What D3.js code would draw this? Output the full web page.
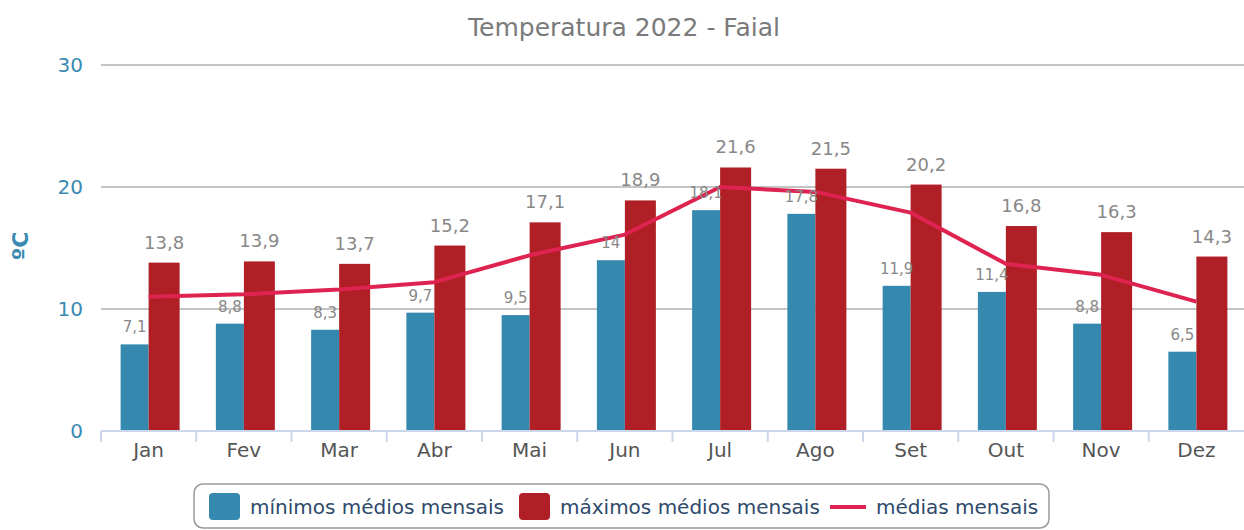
<!DOCTYPE html>
<html>
<head>
<meta charset="utf-8">
<script src="https://cdn.jsdelivr.net/npm/d3@7"></script>
<style>
  body { margin: 0; background: #fff; }
  text { font-family: "DejaVu Sans", sans-serif; }
</style>
</head>
<body>
<div id="chart"></div>
<script>
// dados
const meses = ["Jan", "Fev", "Mar", "Abr", "Mai", "Jun", "Jul", "Ago", "Set", "Out", "Nov", "Dez"];
const minimos = [7.1, 8.8, 8.3, 9.7, 9.5, 14, 18.1, 17.8, 11.9, 11.4, 8.8, 6.5];
const maximos = [13.8, 13.9, 13.7, 15.2, 17.1, 18.9, 21.6, 21.5, 20.2, 16.8, 16.3, 14.3];
const medias = [11.0, 11.2, 11.6, 12.2, 14.4, 16.1, 20.0, 19.6, 17.9, 13.7, 12.8, 10.6];
const yTicks = [0, 10, 20, 30];

const W = 1244, H = 530;
const plotLeft = 101, plotRight = 1244, plotTop = 65, plotBottom = 431;

const svg = d3.select("#chart").append("svg")
    .attr("width", W)
    .attr("height", H);

// título
svg.append("text")
    .attr("x", 624)
    .attr("y", 36)
    .attr("text-anchor", "middle")
    .style("font-size", "25px")
    .style("fill", "#7a7a7a")
    .text("Temperatura 2022 - Faial");

const x = d3.scaleBand().domain(meses).range([plotLeft, plotRight]);
const y = d3.scaleLinear().domain([0, 30]).range([plotBottom, plotTop]);

// grelha
svg.append("g").selectAll("line")
    .data(yTicks.filter(d => d > 0))
    .enter().append("line")
    .attr("x1", plotLeft).attr("x2", plotRight)
    .attr("y1", d => y(d)).attr("y2", d => y(d))
    .attr("stroke", "#c4c4c4")
    .attr("stroke-width", 2);

// eixo Y
const yAxis = svg.append("g")
    .attr("transform", `translate(${plotLeft},0)`)
    .call(d3.axisLeft(y).tickValues(yTicks).tickSize(0).tickPadding(18));
yAxis.select(".domain").remove();
yAxis.selectAll("text")
    .style("font-size", "20px")
    .style("fill", "#3a8ab2")
    .style("font-family", "DejaVu Sans, sans-serif");

svg.append("text")
    .attr("transform", "translate(28,246) rotate(-90)")
    .attr("text-anchor", "middle")
    .style("font-size", "22px")
    .style("font-weight", "bold")
    .style("fill", "#3a8ab2")
    .text("ºC");

// barras
const blueW = 28, redW = 31;
const gBars = svg.append("g");

gBars.selectAll(".min")
    .data(minimos)
    .enter().append("rect")
    .attr("class", "min")
    .attr("x", (d, i) => x(meses[i]) + x.bandwidth() / 2 - blueW)
    .attr("y", d => y(d))
    .attr("width", blueW)
    .attr("height", d => y(0) - y(d))
    .attr("fill", "#3588ae");

gBars.selectAll(".max")
    .data(maximos)
    .enter().append("rect")
    .attr("class", "max")
    .attr("x", (d, i) => x(meses[i]) + x.bandwidth() / 2)
    .attr("y", d => y(d))
    .attr("width", redW)
    .attr("height", d => y(0) - y(d))
    .attr("fill", "#b01f25");

// eixo X
svg.append("line")
    .attr("x1", plotLeft).attr("x2", plotRight)
    .attr("y1", plotBottom).attr("y2", plotBottom)
    .attr("stroke", "#ccd6eb")
    .attr("stroke-width", 2);

svg.append("g").selectAll("line")
    .data(meses)
    .enter().append("line")
    .attr("x1", d => x(d)).attr("x2", d => x(d))
    .attr("y1", plotBottom).attr("y2", plotBottom + 11)
    .attr("stroke", "#ccd6eb")
    .attr("stroke-width", 2);

svg.append("g").selectAll("text")
    .data(meses)
    .enter().append("text")
    .attr("x", d => x(d) + x.bandwidth() / 2)
    .attr("y", 457)
    .attr("text-anchor", "middle")
    .style("font-size", "20px")
    .style("fill", "#555")
    .text(d => d);

// linha das médias
const line = d3.line()
    .x((d, i) => x(meses[i]) + x.bandwidth() / 2)
    .y(d => y(d));

svg.append("path")
    .datum(medias)
    .attr("d", line)
    .attr("fill", "none")
    .attr("stroke", "#de2350")
    .attr("stroke-width", 4)
    .attr("stroke-linejoin", "round");

// rótulos
const fmt = v => String(v).replace(".", ",");

svg.append("g").selectAll("text")
    .data(minimos)
    .enter().append("text")
    .attr("x", (d, i) => x(meses[i]) + x.bandwidth() / 2 - blueW / 2)
    .attr("y", d => y(d) - 12)
    .attr("text-anchor", "middle")
    .style("font-size", "15px")
    .style("fill", "#888")
    .text(fmt);

svg.append("g").selectAll("text")
    .data(maximos)
    .enter().append("text")
    .attr("x", (d, i) => x(meses[i]) + x.bandwidth() / 2 + redW / 2)
    .attr("y", d => y(d) - 14)
    .attr("text-anchor", "middle")
    .style("font-size", "18px")
    .style("fill", "#888")
    .text(fmt);

// legenda
const legenda = [
    { nome: "mínimos médios mensais", cor: "#3588ae", tipo: "rect", x: 209 },
    { nome: "máximos médios mensais", cor: "#b01f25", tipo: "rect", x: 519 },
    { nome: "médias mensais", cor: "#de2350", tipo: "line", x: 830 }
];

svg.append("rect")
    .attr("x", 194).attr("y", 484)
    .attr("width", 855).attr("height", 44)
    .attr("rx", 9)
    .attr("fill", "#fff")
    .attr("stroke", "#999")
    .attr("stroke-width", 1.5);

const li = svg.append("g").selectAll("g")
    .data(legenda)
    .enter().append("g")
    .attr("transform", d => `translate(${d.x},507)`);

li.filter(d => d.tipo === "rect").append("rect")
    .attr("x", 0).attr("y", -14)
    .attr("width", 31).attr("height", 27)
    .attr("rx", 4)
    .attr("fill", d => d.cor);

li.filter(d => d.tipo === "line").append("line")
    .attr("x1", 0).attr("x2", 36)
    .attr("y1", 0).attr("y2", 0)
    .attr("stroke", d => d.cor)
    .attr("stroke-width", 4);

li.append("text")
    .attr("x", d => d.tipo === "rect" ? 41 : 46)
    .attr("y", 7)
    .style("font-size", "20px")
    .style("fill", "#2e4a6b")
    .text(d => d.nome);
</script>
</body>
</html>
